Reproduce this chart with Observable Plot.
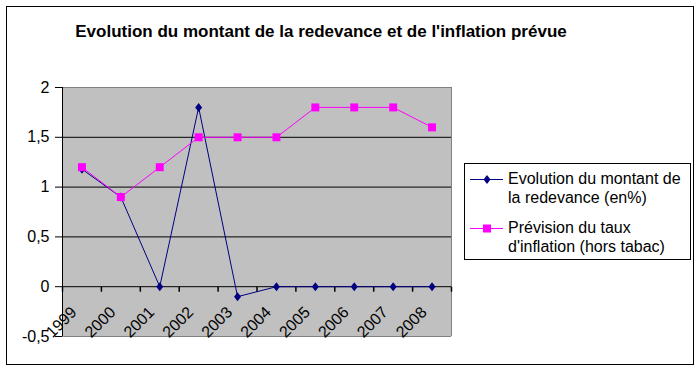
<!DOCTYPE html>
<html>
<head>
<meta charset="utf-8">
<script src="https://cdn.jsdelivr.net/npm/d3@7"></script>
<script src="https://cdn.jsdelivr.net/npm/@observablehq/plot@0.6"></script>
<style>
  html, body { margin: 0; padding: 0; background: #fff; }
  #chart { position: relative; width: 699px; height: 370px; overflow: hidden; font-family: "Liberation Sans", Arial, sans-serif; }
  #chart > svg { position: absolute; left: 0; top: 0; }
  #border { position: absolute; left: 6px; top: 6px; width: 688px; height: 359px; box-sizing: border-box; border: 1px solid #000; pointer-events: none; }
  #title { position: absolute; left: 0; top: 23px; width: 642px; text-align: center; font-weight: bold; font-size: 17px; line-height: 17px; color: #000; white-space: nowrap; }
  #legend { position: absolute; left: 0; top: 0; }
</style>
</head>
<body>
<div id="chart">
  <div id="border"></div>
  <div id="title">Evolution du montant de la redevance et de l'inflation prévue</div>
</div>
<script>
// ---- data ----
const years = [1999, 2000, 2001, 2002, 2003, 2004, 2005, 2006, 2007, 2008];
const redevance = [1.18, 0.9, 0, 1.8, -0.1, 0, 0, 0, 0, 0];
const inflation = [1.2, 0.9, 1.2, 1.5, 1.5, 1.5, 1.8, 1.8, 1.8, 1.6];
const yTicks = [-0.5, 0, 0.5, 1, 1.5, 2];
const seriesNames = ["Evolution du montant de la redevance (en%)", "Prévision du taux d'inflation (hors tabac)"];
const legendLines = [["Evolution du montant de", "la redevance (en%)"], ["Prévision du taux", "d'inflation (hors tabac)"]];

const data = years.map((year, i) => ({year, redevance: redevance[i], inflation: inflation[i]}));
const xDomain = [years[0] - 0.5, years[years.length - 1] + 0.5];
const yDomain = [yTicks[0], yTicks[yTicks.length - 1]];
const boundaries = [...years.map(y => y - 0.5), years[years.length - 1] + 0.5];
const fmt = d => String(d).replace(".", ",");

const navy = "#000080", magenta = "#FF00FF";
const tickSymbol = {draw(ctx) { ctx.moveTo(0, 0); ctx.lineTo(0, 5); }};
const diamondSymbol = {draw(ctx) { ctx.moveTo(0, -4.5); ctx.lineTo(3.5, 0); ctx.lineTo(0, 4.5); ctx.lineTo(-3.5, 0); ctx.closePath(); }};

const plot = Plot.plot({
  width: 699,
  height: 370,
  marginLeft: 62,
  marginRight: 248,
  marginTop: 87,
  marginBottom: 34,
  style: {fontFamily: "'Liberation Sans', Arial, sans-serif", fontSize: "16px", background: "transparent", color: "#000"},
  x: {type: "linear", domain: xDomain, axis: null},
  y: {domain: yDomain, axis: null},
  marks: [
    Plot.frame({fill: "#C0C0C0", stroke: null}),
    Plot.ruleY(yTicks.filter(d => d > yDomain[0] && d < yDomain[1]), {stroke: "#000"}),
    Plot.ruleY(yDomain, {stroke: "#808080"}),
    Plot.ruleX([xDomain[1]], {stroke: "#808080"}),
    Plot.ruleX([xDomain[0]], {stroke: "#000"}),
    Plot.axisY({ticks: yTicks, tickSize: 7, tickPadding: 6, tickFormat: fmt, fontSize: 16}),
    Plot.dot(boundaries, {x: d => d, y: 0, symbol: tickSymbol, stroke: "#000", fill: "none", r: 3}),
    Plot.text(years, {x: d => d, y: 0, text: d => String(d), rotate: -45, textAnchor: "end", dx: -8, dy: 23, fontSize: 16, fill: "#000"}),
    Plot.line(data, {x: "year", y: "redevance", stroke: navy, strokeWidth: 1}),
    Plot.dot(data, {x: "year", y: "redevance", symbol: diamondSymbol, fill: navy, stroke: "none", r: 4}),
    Plot.line(data, {x: "year", y: "inflation", stroke: magenta, strokeWidth: 1}),
    Plot.dot(data, {x: "year", y: "inflation", symbol: "square", fill: magenta, stroke: "none", r: 4.5})
  ]
});
const chart = document.getElementById("chart");
chart.insertBefore(plot, chart.firstChild);

// ---- legend ----
const lg = d3.select(chart).append("svg").attr("id", "legend").attr("width", 699).attr("height", 370)
  .style("font-family", "'Liberation Sans', Arial, sans-serif").style("font-size", "16px");
lg.append("rect").attr("x", 464.5).attr("y", 163.5).attr("width", 226).attr("height", 96)
  .attr("fill", "#fff").attr("stroke", "#000");
const entries = [
  {color: navy, marker: "diamond", lines: legendLines[0], name: seriesNames[0]},
  {color: magenta, marker: "square", lines: legendLines[1], name: seriesNames[1]}
];
const entryY = [179.5, 228.5];
entries.forEach((e, i) => {
  const g = lg.append("g");
  const cy = entryY[i];
  g.append("line").attr("x1", 470).attr("x2", 503).attr("y1", cy).attr("y2", cy).attr("stroke", e.color);
  if (e.marker === "diamond") {
    g.append("path").attr("d", d3.symbol({draw: diamondSymbol.draw})()).attr("transform", `translate(487,${cy})`).attr("fill", e.color);
  } else {
    g.append("path").attr("d", d3.symbol(d3.symbolSquare, 64)()).attr("transform", `translate(487,${cy})`).attr("fill", e.color);
  }
  e.lines.forEach((t, j) => {
    g.append("text").attr("x", 508).attr("y", cy + 4 + j * 19.5).text(t);
  });
});
</script>
</body>
</html>
